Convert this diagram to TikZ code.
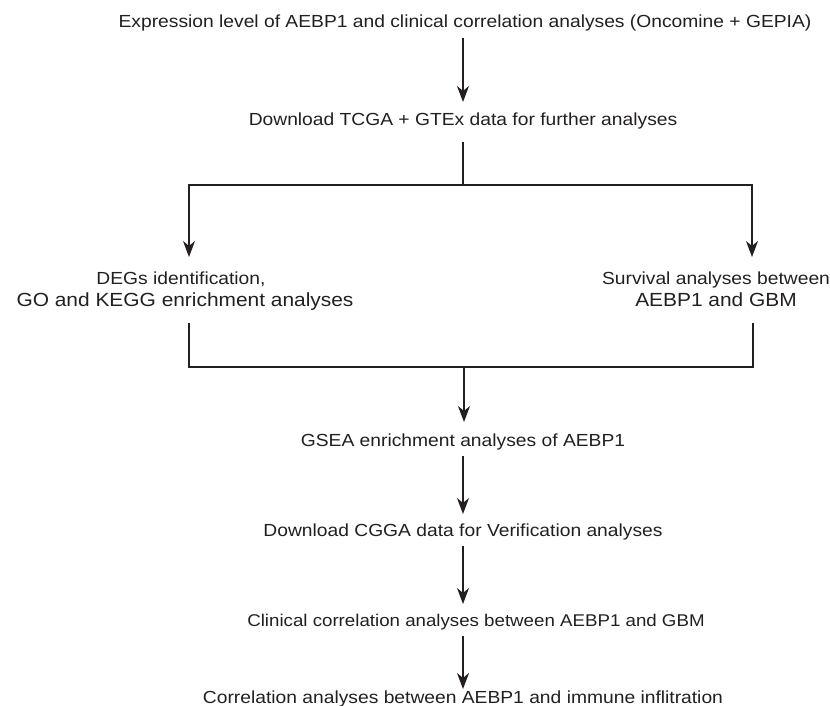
\documentclass[tikz,border=0pt]{standalone}
\usepackage{fontspec}
\setmainfont{Liberation Sans}[FakeStretch=1.1]
\usetikzlibrary{arrows.meta}
\definecolor{ink}{HTML}{231F20}
\begin{document}
\begin{tikzpicture}[x=1pt,y=-1pt,
  lbl/.style={inner sep=0pt,anchor=base,text=ink,font=\fontsize{17.5}{21}\selectfont},
  big/.style={inner sep=0pt,anchor=base,text=ink,font=\fontsize{19}{24}\selectfont},
  conn/.style={line width=1.2pt,draw=ink},
  arr/.style={conn,-{Stealth[length=16pt,width=12pt,inset=5pt]}}]
\useasboundingbox (0,0) rectangle (830,706);
\node[lbl] (t1) at (465,28) {Expression level of AEBP1 and clinical correlation analyses (Oncomine + GEPIA)};
\node[lbl] (t2) at (463,126) {Download TCGA + GTEx data for further analyses};
\node[lbl] (l1) at (181,284) {DEGs identification,};
\node[big] (l2) at (185,306) {GO and KEGG enrichment analyses};
\node[lbl] (r1) at (716,284) {Survival analyses between};
\node[big] (r2) at (716,306) {AEBP1 and GBM};
\node[lbl] (t3) at (463,446) {GSEA enrichment analyses of AEBP1};
\node[lbl] (t4) at (463,536) {Download CGGA data for Verification analyses};
\node[lbl,font=\fontsize{17}{21}\selectfont] (t5) at (476,626) {Clinical correlation analyses between AEBP1 and GBM};
\node[lbl] (t6) at (463,703) {Correlation analyses between AEBP1 and immune inflitration};
\coordinate (a0) at (463,38);
\coordinate (a1) at (463,102);
\coordinate (s1) at (463,142);
\coordinate (jl) at (189,185);
\coordinate (jr) at (752,185);
\coordinate (al) at (189,257);
\coordinate (ar) at (752,257);
\coordinate (bl) at (189,323);
\coordinate (br) at (753,323);
\coordinate (kl) at (189,367);
\coordinate (kr) at (753,367);
\coordinate (k) at (464,367);
\coordinate (kt) at (464,422);
\coordinate (c0) at (463,456);
\coordinate (c1) at (463,514);
\coordinate (d0) at (463,546);
\coordinate (d1) at (463,604);
\coordinate (e0) at (463,636);
\coordinate (e1) at (463,689);
\draw[arr] (a0) -- (a1);
\draw[conn] (s1) -- (s1 |- jl);
\draw[arr] (jl -| s1) -- (jl) -- (al);
\draw[arr] (jr -| s1) -- (jr) -- (ar);
\draw[conn] (bl) -- (kl) -- (kr) -- (br);
\draw[arr] (k) -- (kt);
\draw[arr] (c0) -- (c1);
\draw[arr] (d0) -- (d1);
\draw[arr] (e0) -- (e1);
\end{tikzpicture}
\end{document}
